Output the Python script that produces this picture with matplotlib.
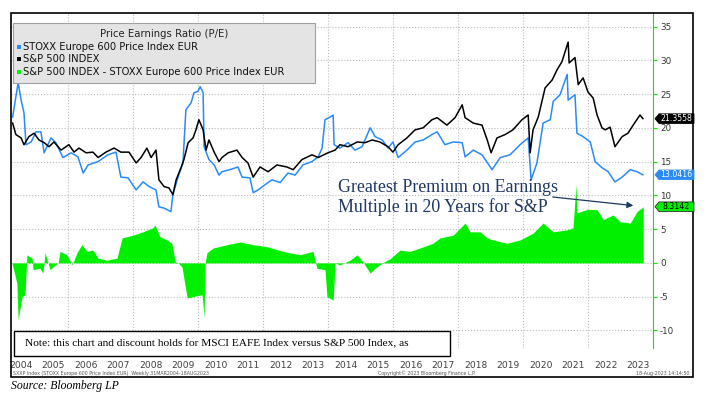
import numpy as np
import matplotlib.pyplot as plt
from matplotlib.patches import Rectangle, Polygon

plt.rcParams['axes.unicode_minus'] = False

# S&P 500 P/E (black line)
spx_t = [2004.30, 2004.40, 2004.56, 2004.65, 2004.80, 2004.96, 2005.11, 2005.27, 2005.42, 2005.57,
         2005.79, 2006.03, 2006.19, 2006.34, 2006.56, 2006.77, 2006.93, 2007.17, 2007.42, 2007.63,
         2007.88, 2008.10, 2008.25, 2008.43, 2008.56, 2008.71, 2008.80, 2008.96, 2009.11, 2009.23,
         2009.33, 2009.48, 2009.57, 2009.70, 2009.85, 2009.94, 2010.03, 2010.16, 2010.25, 2010.34,
         2010.50, 2010.65, 2010.74, 2010.93, 2011.20, 2011.36, 2011.54, 2011.70, 2011.91, 2012.16,
         2012.43, 2012.74, 2012.93, 2013.20, 2013.51, 2013.70, 2014.00, 2014.22, 2014.37, 2014.62,
         2014.90, 2015.14, 2015.36, 2015.60, 2015.85, 2016.00, 2016.16, 2016.43, 2016.68, 2016.93,
         2017.20, 2017.36, 2017.66, 2017.91, 2018.13, 2018.22, 2018.47, 2018.74, 2018.90, 2019.02,
         2019.20, 2019.45, 2019.69, 2019.97, 2020.16, 2020.22, 2020.31, 2020.47, 2020.68, 2020.90,
         2021.05, 2021.20, 2021.39, 2021.42, 2021.60, 2021.70, 2021.85, 2022.00, 2022.16, 2022.28,
         2022.43, 2022.53, 2022.68, 2022.83, 2023.05, 2023.23, 2023.39, 2023.60, 2023.69]
spx_pe = [20.7, 19.0, 18.5, 17.5, 18.7, 19.2, 18.2, 17.8, 17.2, 17.9,
          16.7, 17.5, 16.4, 17.0, 16.3, 16.4, 15.6, 16.4, 17.0, 16.4,
          16.4, 14.8, 15.6, 17.0, 15.6, 16.7, 12.3, 11.3, 11.1, 10.1,
          12.3, 14.1, 15.3, 17.8, 18.5, 19.7, 21.2, 19.7, 16.7, 18.2,
          16.4, 15.0, 15.6, 16.3, 16.7, 15.6, 14.8, 12.7, 14.2, 13.5,
          14.5, 14.2, 13.8, 15.3, 16.0, 15.6, 16.3, 16.7, 17.5, 17.2,
          17.9, 17.8, 18.2, 17.9, 17.2, 16.4, 17.5, 18.5, 19.7, 20.0,
          21.2, 21.5, 20.4, 21.5, 23.4, 21.5, 20.7, 20.4, 18.2, 16.3,
          18.5, 19.0, 19.7, 21.2, 21.9, 16.3, 19.7, 21.6, 25.9, 27.1,
          28.6, 29.8, 32.7, 29.6, 30.4, 26.4, 27.4, 25.3, 24.4, 21.9,
          20.0, 19.7, 20.1, 17.2, 18.7, 19.2, 20.4, 21.9, 21.3558]

# STOXX Europe 600 P/E (blue line)
sxxp_t = [2004.30, 2004.47, 2004.56, 2004.65, 2004.71, 2004.87, 2005.02, 2005.17, 2005.27, 2005.48,
          2005.63, 2005.85, 2006.10, 2006.31, 2006.47, 2006.62, 2006.93, 2007.23, 2007.48, 2007.63,
          2007.85, 2008.10, 2008.31, 2008.50, 2008.71, 2008.80, 2008.96, 2009.17, 2009.23, 2009.39,
          2009.54, 2009.63, 2009.79, 2009.88, 2010.00, 2010.07, 2010.16, 2010.19, 2010.34, 2010.50,
          2010.65, 2010.74, 2010.98, 2011.23, 2011.36, 2011.60, 2011.70, 2011.85, 2012.07, 2012.28,
          2012.53, 2012.77, 2012.99, 2013.23, 2013.51, 2013.70, 2013.82, 2013.91, 2014.07, 2014.16,
          2014.19, 2014.37, 2014.62, 2014.83, 2015.05, 2015.30, 2015.45, 2015.67, 2015.85, 2016.00,
          2016.16, 2016.43, 2016.68, 2016.93, 2017.20, 2017.36, 2017.60, 2017.85, 2018.13, 2018.22,
          2018.47, 2018.74, 2019.05, 2019.30, 2019.60, 2019.91, 2020.16, 2020.25, 2020.43, 2020.62,
          2020.84, 2020.93, 2021.14, 2021.36, 2021.39, 2021.60, 2021.66, 2021.85, 2022.07, 2022.22,
          2022.43, 2022.62, 2022.83, 2023.05, 2023.30, 2023.51, 2023.69]
sxxp_pe = [21.6, 26.7, 24.1, 22.2, 17.5, 17.9, 19.4, 19.4, 16.3, 18.5,
           17.8, 15.6, 16.3, 15.7, 13.3, 14.5, 15.0, 16.0, 16.4, 12.7,
           12.6, 10.8, 12.0, 11.3, 10.8, 8.3, 8.1, 7.6, 10.1, 12.7,
           14.8, 22.7, 23.7, 25.2, 25.4, 26.1, 25.2, 17.2, 15.3, 14.5,
           13.0, 13.5, 13.8, 14.2, 12.7, 12.6, 10.4, 10.8, 11.6, 12.3,
           11.9, 13.3, 13.0, 14.5, 15.0, 15.7, 17.0, 21.2, 21.6, 21.9,
           17.5, 17.0, 17.8, 16.7, 17.2, 20.0, 18.7, 18.2, 17.0, 17.9,
           15.6, 16.7, 17.9, 18.2, 19.0, 19.4, 17.5, 17.9, 17.8, 15.7,
           16.7, 16.0, 13.8, 15.6, 16.0, 17.5, 18.5, 12.3, 14.8, 20.7,
           21.2, 23.9, 24.9, 27.9, 24.1, 24.9, 19.2, 18.7, 17.9, 15.0,
           14.1, 13.5, 12.0, 12.7, 13.8, 13.5, 13.0416]

# spread S&P minus STOXX (green area)
spread_t = [2004.28, 2004.43, 2004.47, 2004.59, 2004.68, 2004.74, 2004.90, 2004.93, 2005.14, 2005.23,
            2005.30, 2005.45, 2005.54, 2005.70, 2005.76, 2005.97, 2006.13, 2006.28, 2006.43, 2006.59,
            2006.77, 2006.93, 2007.20, 2007.51, 2007.67, 2008.00, 2008.31, 2008.62, 2008.68, 2008.83,
            2009.05, 2009.20, 2009.30, 2009.39, 2009.51, 2009.67, 2009.85, 2010.13, 2010.19, 2010.22,
            2010.28, 2010.47, 2010.90, 2011.30, 2011.70, 2012.13, 2012.62, 2013.14, 2013.54, 2013.66,
            2013.91, 2013.97, 2014.16, 2014.22, 2014.37, 2014.68, 2014.90, 2015.08, 2015.30, 2015.45,
            2015.67, 2015.91, 2016.22, 2016.53, 2016.83, 2017.23, 2017.45, 2017.85, 2018.22, 2018.37,
            2018.68, 2018.90, 2019.08, 2019.51, 2019.91, 2020.31, 2020.62, 2020.93, 2021.36, 2021.54,
            2021.63, 2021.66, 2021.97, 2022.28, 2022.47, 2022.77, 2022.99, 2023.30, 2023.51, 2023.70]
spread = [0.0, -3.0, -8.4, -5.0, -4.7, 1.2, 0.7, -1.0, -0.8, -1.5,
          1.5, -1.0, -0.6, 0.0, 1.7, 1.2, -0.3, 1.5, 2.7, 1.7,
          1.9, 0.7, 0.4, 0.7, 3.7, 4.1, 4.6, 5.2, 5.6, 3.9,
          3.4, 2.9, 0.2, 0.0, -0.6, -5.2, -5.0, -4.7, -8.1, 0.0,
          1.5, 2.2, 2.7, 3.1, 2.7, 2.4, 1.7, 1.2, 1.7, -0.8,
          -1.0, -5.0, -5.5, 0.0, -0.3, 0.4, 1.2, 0.1, -1.5, -0.8,
          0.0, 0.6, 1.9, 1.7, 2.2, 2.9, 3.7, 4.1, 5.9, 4.6,
          4.6, 3.7, 3.4, 2.9, 3.4, 4.4, 5.9, 4.6, 4.9, 5.2,
          11.6, 7.4, 7.9, 7.9, 6.4, 7.1, 6.1, 5.9, 7.6, 8.3142]

year_labels = list(range(2004, 2024))
grid_years = list(range(2006, 2024, 2))

BLUE = '#2a8af6'
GREEN = '#00f000'
NAVY = '#1f3864'
W, H = 712, 399

fig = plt.figure(figsize=(7.12, 3.99), dpi=100)
ax = fig.add_axes([11 / W, 1 - 348 / H, 642 / W, 335 / H])

ax.fill_between(spread_t, 0, spread, color=GREEN, lw=0, zorder=2)
ax.plot(sxxp_t, sxxp_pe, color=BLUE, lw=1.1, zorder=3)
ax.plot(spx_t, spx_pe, color='black', lw=1.1, zorder=4)

ax.set_xlim(2004.25, 2024.0)
ax.set_ylim(-12.6, 37.0)

# axis styling
for s in ['left', 'top', 'bottom']:
    ax.spines[s].set_visible(False)
ax.spines['right'].set_color(GREEN)
ax.yaxis.tick_right()
ax.set_yticks(np.arange(-10, 36, 5))
ax.tick_params(axis='y', colors=GREEN, labelcolor='#333333', labelsize=6.3, length=3, pad=2)
ax.set_xticks([y + 0.55 for y in year_labels], [str(y) for y in year_labels])
ax.set_xticks(grid_years, minor=True)
ax.tick_params(axis='x', which='both', length=0, labelsize=6.6, labelcolor='#404040', pad=9)
ax.grid(axis='y', which='major', color='#bbbbbb', ls=':', lw=0.8)
ax.grid(axis='x', which='minor', color='#bbbbbb', ls=':', lw=0.8)
ax.set_axisbelow(True)

# last value tags on the right (small arrow-shaped boxes)
to_fig = fig.transFigure.inverted()
tags = [(spx_pe[-1], 'black', 'white', 'black'),
        (sxxp_pe[-1], BLUE, 'white', BLUE),
        (spread[-1], GREEN, 'black', '#333333')]
for val, fc, tc, ec in tags:
    yc = to_fig.transform(ax.transData.transform((2024.0, val)))[1]
    x0, x1, xn = 655 / W, 694 / W, 659 / W
    hh = 4.8 / H
    fig.add_artist(Polygon([(x0, yc), (xn, yc + hh), (x1, yc + hh), (x1, yc - hh), (xn, yc - hh)],
                           closed=True, transform=fig.transFigure, fc=fc, ec=ec, lw=0.6, zorder=11))
    fig.text(676.5 / W, yc, f'{val:.4f}', ha='center', va='center', fontsize=5.6, color=tc, zorder=12)

# annotation
ax.annotate('', xy=(2023.48, 8.44), xytext=(2020.83, 9.8),
            arrowprops=dict(arrowstyle='-|>', color=NAVY, lw=0.9, mutation_scale=9), zorder=7)
fig.text(338 / W, 1 - 197.5 / H, 'Greatest Premium on Earnings\nMultiple in 20 Years for S&P',
         family='Liberation Serif', fontsize=12.9, color=NAVY, ha='left', va='center', linespacing=1.12)

# legend box
fig.add_artist(Rectangle((13 / W, 1 - 83 / H), 302 / W, 60 / H, transform=fig.transFigure,
                         fc='#e4e4e4', ec='#a0a0a0', lw=0.8, zorder=8))
fig.text(164 / W, 1 - 34 / H, 'Price Earnings Ratio (P/E)', ha='center', va='center',
         fontsize=7.3, color='#222222', zorder=9)
leg_items = [('STOXX Europe 600 Price Index EUR', BLUE),
             ('S&P 500 INDEX', 'black'),
             ('S&P 500 INDEX - STOXX Europe 600 Price Index EUR', GREEN)]
for i, (lab, col) in enumerate(leg_items):
    yy = 1 - (46.7 + 12.5 * i) / H
    fig.add_artist(Rectangle((16.5 / W, yy - 2 / H), 4 / W, 4 / H, transform=fig.transFigure,
                             fc=col, ec='none', zorder=9))
    fig.text(23 / W, yy, lab, ha='left', va='center', fontsize=7.2, color='#111111', zorder=9)

# note box
fig.add_artist(Rectangle((14 / W, 1 - 356 / H), 436 / W, 25 / H, transform=fig.transFigure,
                         fc='white', ec='black', lw=1.0, zorder=8))
fig.text(25 / W, 1 - 343.5 / H,
         'Note: this chart and discount holds for MSCI EAFE Index versus S&P 500 Index, as',
         family='Liberation Serif', fontsize=8.2, ha='left', va='center', zorder=9)

# footer
fig.text(13 / W, 1 - 373 / H,
         'SXXP Index (STOXX Europe 600 Price Index EUR)  Weekly 31MAR2004-18AUG2023',
         fontsize=3.4, color='#555555', ha='left', va='center')
fig.text(427 / W, 1 - 373 / H, 'Copyright\u00a9 2023 Bloomberg Finance L.P.',
         fontsize=3.4, color='#555555', ha='center', va='center')
fig.text(690 / W, 1 - 373 / H, '18-Aug-2023 14:14:50',
         fontsize=3.4, color='#555555', ha='right', va='center')

# outer frame
fig.add_artist(Rectangle((11 / W, 1 - 377 / H), 682 / W, 364 / H, transform=fig.transFigure,
                         fill=False, ec='black', lw=1.2, zorder=10))

fig.text(11 / W, 1 - 386 / H, 'Source: Bloomberg LP', family='Liberation Serif', style='italic',
         fontsize=8.5, ha='left', va='center')

fig.savefig('out.png', dpi=100)
